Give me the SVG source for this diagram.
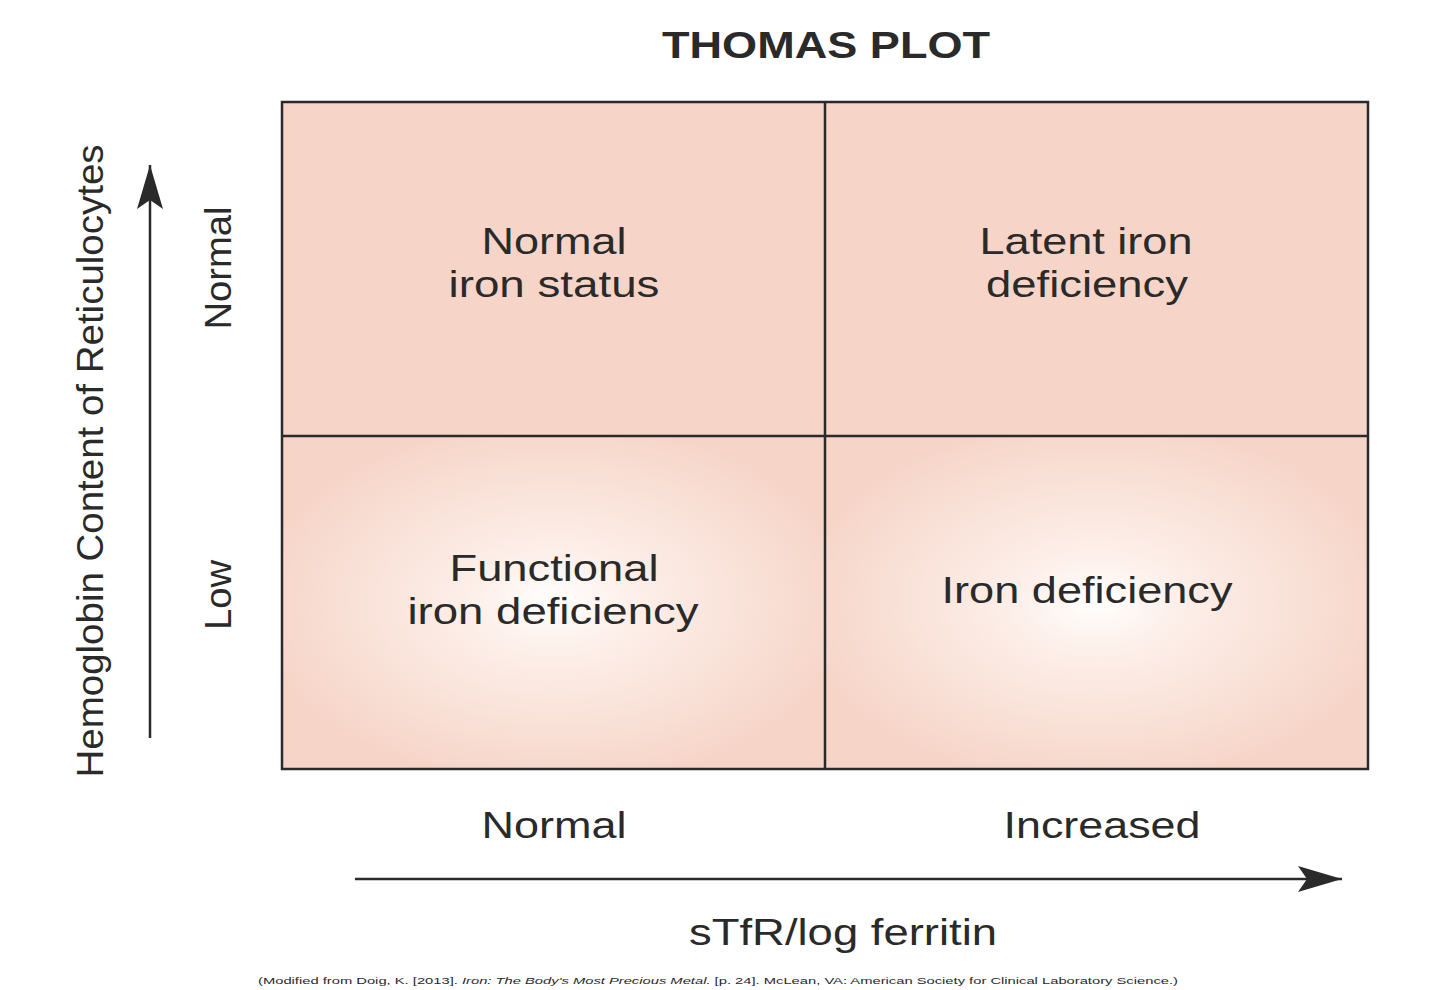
<svg xmlns="http://www.w3.org/2000/svg" width="1440" height="990" viewBox="0 0 1440 990">
<style>
text{font-family:"Liberation Sans",Arial,sans-serif;fill:#2a2a2a}
.q{font-size:37px;text-anchor:middle}
.ax{font-size:37px;text-anchor:middle}
.ln{stroke:#2a2a2a;stroke-width:2.5;fill:none}
</style>
<defs>
<radialGradient id="glow" cx="0.5" cy="0.5" r="0.55">
<stop offset="0" stop-color="#ffffff"/><stop offset="0.25" stop-color="#fdf0ea"/><stop offset="1" stop-color="#f6d5c8"/>
</radialGradient>
<marker id="ahb" markerWidth="44" markerHeight="26" refX="44" refY="13" orient="auto" markerUnits="userSpaceOnUse"><path d="M0,0 L44,13 L0,26 L9,13 Z" fill="#2a2a2a"/></marker>
</defs>
<text x="826" y="58" font-size="37" font-weight="bold" text-anchor="middle" textLength="328" lengthAdjust="spacingAndGlyphs">THOMAS PLOT</text>
<g id="q-normal"><rect x="282" y="102" width="543" height="334" fill="#f6d5c8"/><text class="q" x="554" y="254" textLength="145" lengthAdjust="spacingAndGlyphs">Normal</text><text class="q" x="554" y="297" textLength="211" lengthAdjust="spacingAndGlyphs">iron status</text></g>
<g id="q-latent"><rect x="825" y="102" width="543" height="334" fill="#f6d5c8"/><text class="q" x="1086" y="254" textLength="213" lengthAdjust="spacingAndGlyphs">Latent iron</text><text class="q" x="1087" y="297" textLength="202" lengthAdjust="spacingAndGlyphs">deficiency</text></g>
<g id="q-functional"><rect x="282" y="436" width="543" height="333" fill="url(#glow)"/><text class="q" x="554" y="581" textLength="209" lengthAdjust="spacingAndGlyphs">Functional</text><text class="q" x="553" y="624" textLength="291" lengthAdjust="spacingAndGlyphs">iron deficiency</text></g>
<g id="q-iron"><rect x="825" y="436" width="543" height="333" fill="url(#glow)"/><text class="q" x="1087" y="603" textLength="291" lengthAdjust="spacingAndGlyphs">Iron deficiency</text></g>
<g id="connectors">
<rect class="ln" x="282" y="102" width="1086" height="667"/>
<line class="ln" x1="825" y1="102" x2="825" y2="769"/>
<line class="ln" x1="282" y1="436" x2="1368" y2="436"/>
<line class="ln" x1="150" y1="738" x2="150" y2="165" marker-end="url(#ahb)"/>
<line class="ln" x1="355" y1="879" x2="1342" y2="879" marker-end="url(#ahb)"/>
</g>
<text class="ax" transform="translate(103,461) rotate(-90)" textLength="633" lengthAdjust="spacingAndGlyphs">Hemoglobin Content of Reticulocytes</text>
<text class="ax" transform="translate(231,268) rotate(-90)" textLength="123" lengthAdjust="spacingAndGlyphs">Normal</text>
<text class="ax" transform="translate(231,595) rotate(-90)" textLength="70" lengthAdjust="spacingAndGlyphs">Low</text>
<text class="ax" x="554" y="838" textLength="145" lengthAdjust="spacingAndGlyphs">Normal</text>
<text class="ax" x="1102" y="838" textLength="197" lengthAdjust="spacingAndGlyphs">Increased</text>
<text class="ax" x="843" y="945" textLength="308" lengthAdjust="spacingAndGlyphs">sTfR/log ferritin</text>
<text x="258" y="984" font-size="9" textLength="920" lengthAdjust="spacingAndGlyphs">(Modified from Doig, K. [2013]. <tspan font-style="italic">Iron: The Body's Most Precious Metal.</tspan> [p. 24]. McLean, VA: American Society for Clinical Laboratory Science.)</text>
</svg>
